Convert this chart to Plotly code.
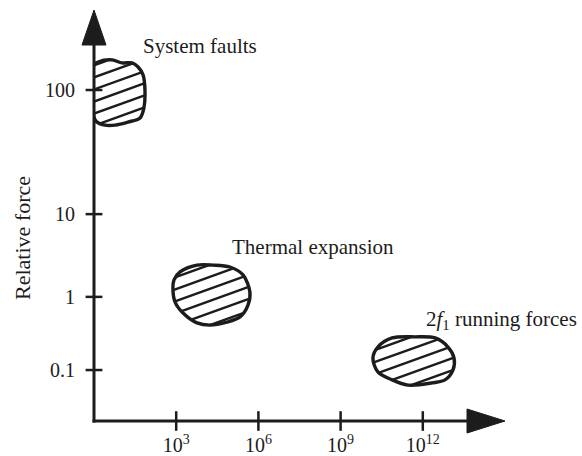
import numpy as np
import plotly.graph_objects as go

# ---------------- data ----------------
# x axis: exponent of 10 (schematic frequency / cycles axis)
x_tick_pos = [3, 6, 9, 12]
x_tick_text = ["10<sup>3</sup>", "10<sup>6</sup>", "10<sup>9</sup>", "10<sup>12</sup>"]
# y axis: schematic relative-force positions
y_tick_pos = [1.86, 4.53, 7.55, 12.08]
y_tick_text = ["0.1", "1", "10", "100"]

# blob outlines (x in decades, y in schematic units)
faults_x = [0.0, 0.15, 0.66, 1.02, 1.39, 1.61, 1.79, 1.86, 1.82, 1.68, 1.24, 0.77, 0.40, 0.11, 0.0]
faults_y = [12.99, 13.10, 13.18, 13.07, 13.07, 12.92, 12.63, 12.08, 11.42, 11.06, 10.91, 10.80, 10.80, 10.91, 11.09]

thermal_x = [2.88, 2.92, 3.14, 3.76, 4.34, 4.96, 5.44, 5.69, 5.62, 5.33, 4.85, 4.23, 3.76, 3.25, 2.96]
thermal_y = [4.85, 5.15, 5.44, 5.69, 5.69, 5.62, 5.33, 4.71, 4.23, 3.80, 3.61, 3.50, 3.58, 3.94, 4.34]

running_x = [10.18, 10.36, 10.88, 11.72, 12.45, 12.92, 13.14, 13.10, 12.81, 12.34, 11.46, 10.88, 10.36]
running_y = [2.30, 2.70, 3.03, 3.07, 3.03, 2.70, 2.30, 1.86, 1.50, 1.39, 1.31, 1.50, 1.79]

label_text = ["System faults", "Thermal expansion", "2<i>f</i><sub>1</sub> running forces"]
label_x = [3.87, 7.99, 14.87]
label_y = [13.69, 6.35, 3.69]

# ---------------- style ----------------
INK = "#1c1c1c"
FONT = "Liberation Serif"
X_RANGE = [0, 15]
Y_RANGE = [0, 15]
PLOT_PX = 411  # plot area size (square)


def hatch(xs, ys, slope, gap):
    pts = list(zip(xs, ys))
    n = len(pts)
    cs = [y - slope * x for x, y in pts]
    start = np.floor(min(cs) / gap) * gap + gap / 2
    hx, hy = [], []
    for ci in np.arange(start, max(cs), gap):
        xi = []
        for i in range(n):
            x1, y1 = pts[i]
            x2, y2 = pts[(i + 1) % n]
            d1 = y1 - slope * x1 - ci
            d2 = y2 - slope * x2 - ci
            if (d1 > 0) != (d2 > 0):
                t = d1 / (d1 - d2)
                xi.append(x1 + t * (x2 - x1))
        xi.sort()
        for a, b in zip(xi[0::2], xi[1::2]):
            hx += [a, b, None]
            hy += [slope * a + ci, slope * b + ci, None]
    return hx, hy


fig = go.Figure()

for bx, by in [(faults_x, faults_y), (thermal_x, thermal_y), (running_x, running_y)]:
    hx, hy = hatch(bx, by, 0.36, 0.44)
    fig.add_trace(go.Scatter(x=hx, y=hy, mode="lines",
                             line=dict(color=INK, width=2.4),
                             hoverinfo="skip"))
    fig.add_trace(go.Scatter(x=bx + [bx[0]], y=by + [by[0]], mode="lines",
                             line=dict(color=INK, width=3.4, shape="spline", smoothing=0.9),
                             hoverinfo="skip"))

# tick crosses
fig.add_trace(go.Scatter(x=[0] * len(y_tick_pos), y=y_tick_pos, mode="markers",
                         marker=dict(symbol="line-ew", size=12, line=dict(width=2.5, color=INK)),
                         cliponaxis=False, hoverinfo="skip"))
fig.add_trace(go.Scatter(x=x_tick_pos, y=[0] * len(x_tick_pos), mode="markers",
                         marker=dict(symbol="line-ns", size=14, line=dict(width=2.5, color=INK)),
                         cliponaxis=False, hoverinfo="skip"))

for t, x, y in zip(label_text, label_x, label_y):
    fig.add_annotation(text=t, x=x, y=y, xref="x", yref="y", showarrow=False,
                       xanchor="center", yanchor="middle",
                       font=dict(family=FONT, size=21, color=INK))

fig.add_annotation(text="Relative force", xref="paper", yref="paper",
                   x=(22 - 94) / PLOT_PX, y=(421 - 238) / PLOT_PX, textangle=-90,
                   xanchor="center", yanchor="middle",
                   showarrow=False, font=dict(family=FONT, size=22, color=INK))

# axis lines and arrowheads (paper coordinates)
al = 35 / PLOT_PX
aw = 12 / PLOT_PX
fig.add_shape(type="line", xref="paper", yref="paper", x0=0, y0=-1.5 / PLOT_PX, x1=0, y1=1 - al,
              line=dict(color=INK, width=3))
fig.add_shape(type="line", xref="paper", yref="paper", x0=-1.5 / PLOT_PX, y0=0, x1=1 - al, y1=0,
              line=dict(color=INK, width=3))
fig.add_shape(type="path", xref="paper", yref="paper",
              path=f"M {-aw} {1 - al} L 0 1 L {aw} {1 - al} Z",
              fillcolor=INK, line=dict(color=INK, width=1))
xl = 38 / PLOT_PX
fig.add_shape(type="path", xref="paper", yref="paper",
              path=f"M {1 - xl} {-aw} L 1 0 L {1 - xl} {aw} Z",
              fillcolor=INK, line=dict(color=INK, width=1))

fig.update_xaxes(range=X_RANGE, tickvals=x_tick_pos, ticktext=x_tick_text,
                 ticks="outside", ticklen=6, tickcolor="rgba(0,0,0,0)",
                 showgrid=False, zeroline=False, showline=False, automargin=False,
                 tickfont=dict(family=FONT, size=20, color=INK))
fig.update_yaxes(range=Y_RANGE, tickvals=y_tick_pos, ticktext=y_tick_text,
                 ticks="outside", ticklen=14, tickcolor="rgba(0,0,0,0)",
                 showgrid=False, zeroline=False, showline=False, automargin=False,
                 tickfont=dict(family=FONT, size=20, color=INK))

fig.update_layout(width=582, height=456, margin=dict(l=94, r=77, t=10, b=35),
                  plot_bgcolor="white", paper_bgcolor="white", showlegend=False,
                  hovermode=False, font=dict(family=FONT, color=INK))

fig.write_html("out.html", config={"displayModeBar": False},
               post_script="document.body.style.margin='0';")
